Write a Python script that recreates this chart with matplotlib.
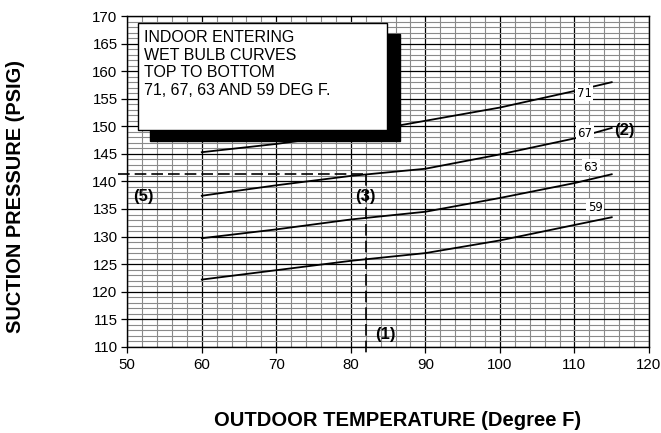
import matplotlib
matplotlib.use("Agg")
import matplotlib.pyplot as plt
from matplotlib.patches import Rectangle
from matplotlib.ticker import MultipleLocator

plt.rcParams['font.family'] = ['Liberation Sans', 'DejaVu Sans']

# =========================================================================== #
# Datos
temp = [60, 70, 80, 90, 100, 110, 115]
wb71 = [145.3, 146.8, 148.6, 151.0, 153.4, 156.4, 158.0]
wb67 = [137.4, 139.3, 141.0, 142.3, 144.9, 147.8, 149.7]
wb63 = [129.7, 131.3, 133.1, 134.5, 137.0, 139.7, 141.3]
wb59 = [122.2, 123.9, 125.6, 127.0, 129.3, 132.1, 133.5]

curvas = [wb71, wb67, wb63, wb59]
etiquetas = ['71', '67', '63', '59']
pos_etiquetas = [(111.3, 156.0), (111.4, 148.7), (112.2, 142.6), (112.8, 135.3)]

# punto de ejemplo: temperatura exterior y presion leida
ej_temp = 82
ej_pres = 141.3

nota = "INDOOR ENTERING\nWET BULB CURVES\nTOP TO BOTTOM\n71, 67, 63 AND 59 DEG F."

# =========================================================================== #
fig = plt.figure(figsize=(6.61, 4.33), dpi=100)
ax = fig.add_axes([0.1925, 0.1990, 0.7893, 0.7640])

ax.set_xlim(50, 120)
ax.set_ylim(110, 170)
ax.xaxis.set_major_locator(MultipleLocator(10))
ax.xaxis.set_minor_locator(MultipleLocator(2))
ax.yaxis.set_major_locator(MultipleLocator(5))
ax.yaxis.set_minor_locator(MultipleLocator(1))

# cuadricula
ax.grid(which='minor', color='#8a8a8a', linewidth=0.8, zorder=0)
ax.grid(which='major', color='black', linewidth=0.9, zorder=0.5)
ax.set_axisbelow(True)
ax.tick_params(which='minor', length=0)
ax.tick_params(which='major', length=4, width=0.9, labelsize=10.8, pad=3)
ax.tick_params(axis='x', pad=4)
for s in ax.spines.values():
    s.set_linewidth(1)

# curvas
for y in curvas:
    ax.plot(temp, y, color='black', linewidth=1.3, zorder=3)

for (tx, ty), lab in zip(pos_etiquetas, etiquetas):
    ax.text(tx, ty, lab, fontsize=8.5, family=['DejaVu Sans'], ha='center',
            va='center', zorder=4,
            bbox=dict(fc='white', ec='none', pad=1.2))

# recuadro con sombra
ax.add_patch(Rectangle((53.1, 147.3), 33.5, 19.5, fc='black', ec='black',
                       zorder=5))
ax.add_patch(Rectangle((51.5, 149.3), 33.4, 19.5, fc='white', ec='black',
                       linewidth=1, zorder=6))
ax.text(52.3, 167.4, nota, fontsize=11.5, ha='left', va='top',
        linespacing=1.2, zorder=7)

# lineas de lectura
ax.plot([48.8, ej_temp], [ej_pres, ej_pres], color='black', linewidth=1.2,
        dashes=(7, 3), clip_on=False, zorder=3)
ax.plot([ej_temp, ej_temp], [ej_pres, 108.8], color='black', linewidth=1.2,
        dashes=(7, 3), clip_on=False, zorder=3)

# anotaciones
ax.text(52.2, 137.2, '(5)', fontsize=12, fontweight='bold', ha='center',
        va='center', zorder=7)
ax.text(ej_temp, 137.2, '(3)', fontsize=12, fontweight='bold', ha='center',
        va='center', zorder=7)
ax.text(84.7, 112.2, '(1)', fontsize=12, fontweight='bold', ha='center',
        va='center', zorder=7)
ax.text(116.7, 149.2, '(2)', fontsize=12, fontweight='bold', ha='center',
        va='center', zorder=7)

# titulos de los ejes
fig.text(0.0235, 0.546, 'SUCTION PRESSURE (PSIG)', rotation=90,
         fontsize=14.4, fontweight='bold', ha='center', va='center')
fig.text(0.602, 0.028, 'OUTDOOR TEMPERATURE (Degree F)', fontsize=14.5,
         fontweight='bold', ha='center', va='center')

fig.savefig('out.png', dpi=100)
